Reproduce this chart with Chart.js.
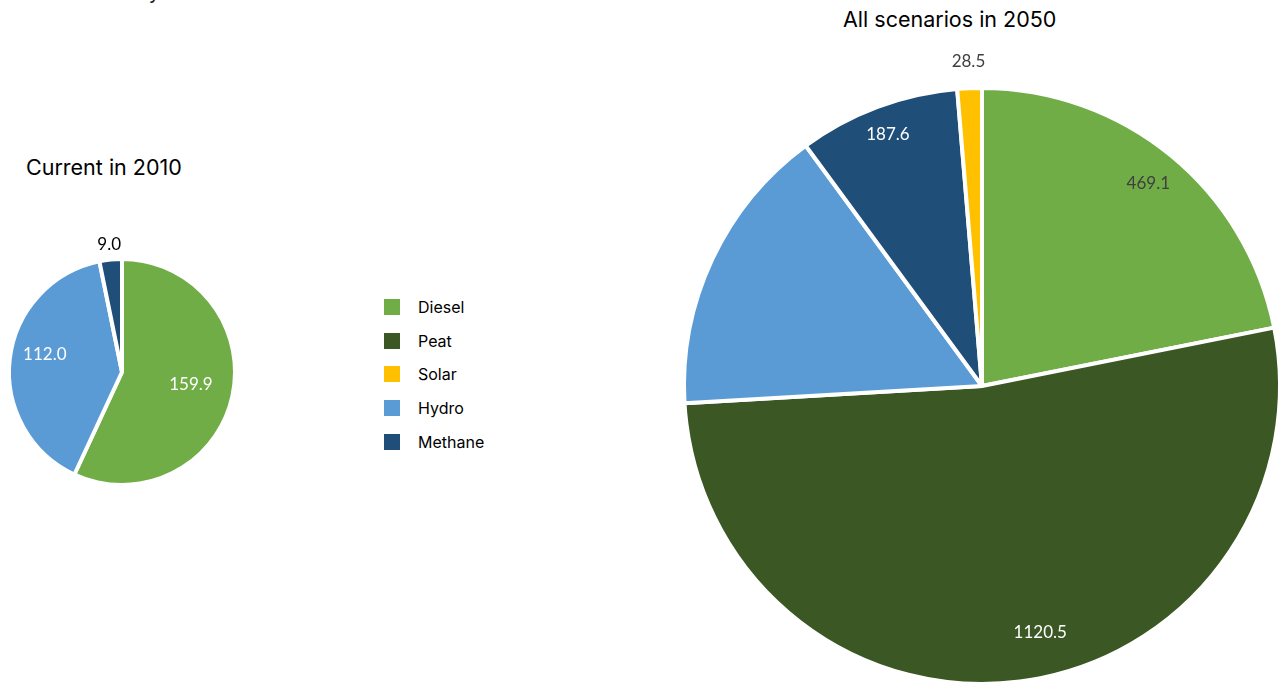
<!DOCTYPE html>
<html>
<head>
<meta charset="utf-8">
<script src="https://cdn.jsdelivr.net/npm/chart.js@4"></script>
<style>
    html, body { margin: 0; padding: 0; background: #fff; }
    body { width: 1284px; height: 682px; overflow: hidden; position: relative; font-family: Inter, "Noto Sans", sans-serif; }
    .title { position: absolute; font-size: 21.5px; color: #000; white-space: nowrap; line-height: 24px; }
    .cut { position: absolute; font-size: 20px; line-height: 20px; color: #1a1a2e; white-space: nowrap; text-align: right; }
    canvas { position: absolute; }
    #legend { position: absolute; left: 384px; top: 290px; font-size: 16px; color: #000; }
    #legend div { height: 33.8px; display: flex; align-items: center; }
    #legend span.box { width: 16px; height: 16px; margin-right: 18px; display: inline-block; }
</style>
</head>
<body>
<div class="cut" style="right:1124px; top:-18px;">Electricity</div>
<div class="title" style="left:26px; top:155px;">Current in 2010</div>
<div class="title" style="left:843px; top:7px;">All scenarios in 2050</div>
<canvas id="pie2010" width="290" height="290" style="left:-23px; top:227px;"></canvas>
<canvas id="pie2050" width="680" height="680" style="left:642px; top:46px;"></canvas>
<div id="legend"></div>
<script>
// data
var labels2010 = ["Diesel", "Hydro", "Methane"];
var values2010 = [159.9, 112.0, 9.0];

var labels2050 = ["Diesel", "Peat", "Hydro", "Methane", "Solar"];
var values2050 = [469.1, 1120.5, 340.0, 187.6, 28.5];

var legendLabels = ["Diesel", "Peat", "Solar", "Hydro", "Methane"];

var colours = {
    Diesel: '#70AD47',
    Peat: '#3A5724',
    Solar: '#FFC000',
    Hydro: '#5B9BD5',
    Methane: '#1F4E79'
};

// draws the value of each slice at a fraction of the radius (and a small angle shift)
var sliceLabels = {
    id: 'sliceLabels',
    afterDatasetsDraw: function (chart, args, opts) {
        var ctx = chart.ctx;
        var meta = chart.getDatasetMeta(0);
        var data = chart.data.datasets[0].data;
        ctx.save();
        ctx.font = '17px Lato, "Noto Sans", sans-serif';
        ctx.textAlign = 'center';
        ctx.textBaseline = 'middle';
        meta.data.forEach(function (arc, i) {
            var f = opts.radius[i];
            if (f == null) return;
            var p = arc.getProps(['x', 'y', 'startAngle', 'endAngle', 'outerRadius'], true);
            var mid = (p.startAngle + p.endAngle) / 2 + (opts.shift[i] || 0) * Math.PI / 180;
            var r = p.outerRadius * f;
            ctx.fillStyle = opts.colors[i];
            ctx.fillText(data[i].toFixed(1), p.x + Math.cos(mid) * r, p.y + Math.sin(mid) * r);
        });
        ctx.restore();
    }
};

function makePie(id, labels, values, pad, labelRadius, labelShift, labelColors) {
    return new Chart(document.getElementById(id), {
        type: 'pie',
        data: {
            labels: labels,
            datasets: [{
                data: values,
                backgroundColor: labels.map(function (l) { return colours[l]; }),
                borderColor: '#ffffff',
                borderWidth: 4
            }]
        },
        options: {
            responsive: false,
            animation: false,
            layout: { padding: pad },
            plugins: {
                legend: { display: false },
                tooltip: { enabled: false },
                sliceLabels: { radius: labelRadius, shift: labelShift, colors: labelColors }
            }
        },
        plugins: [sliceLabels]
    });
}

var chart2010 = makePie("pie2010", labels2010, values2010, 30,
    [0.62, 0.70, 1.13], [-2, 6, 0], ['#ffffff', '#ffffff', '#000000']);
var chart2050 = makePie("pie2050", labels2050, values2050, 40,
    [0.88, 0.85, null, 0.90, 1.09], [0, -6, 0, 0, 0], ['#404040', '#ffffff', null, '#ffffff', '#404040']);

// shared legend
var legend = document.getElementById("legend");
legendLabels.forEach(function (l) {
    var row = document.createElement("div");
    row.innerHTML = '<span class="box" style="background:' + colours[l] + '"></span>' + l;
    legend.appendChild(row);
});
</script>
</body>
</html>
